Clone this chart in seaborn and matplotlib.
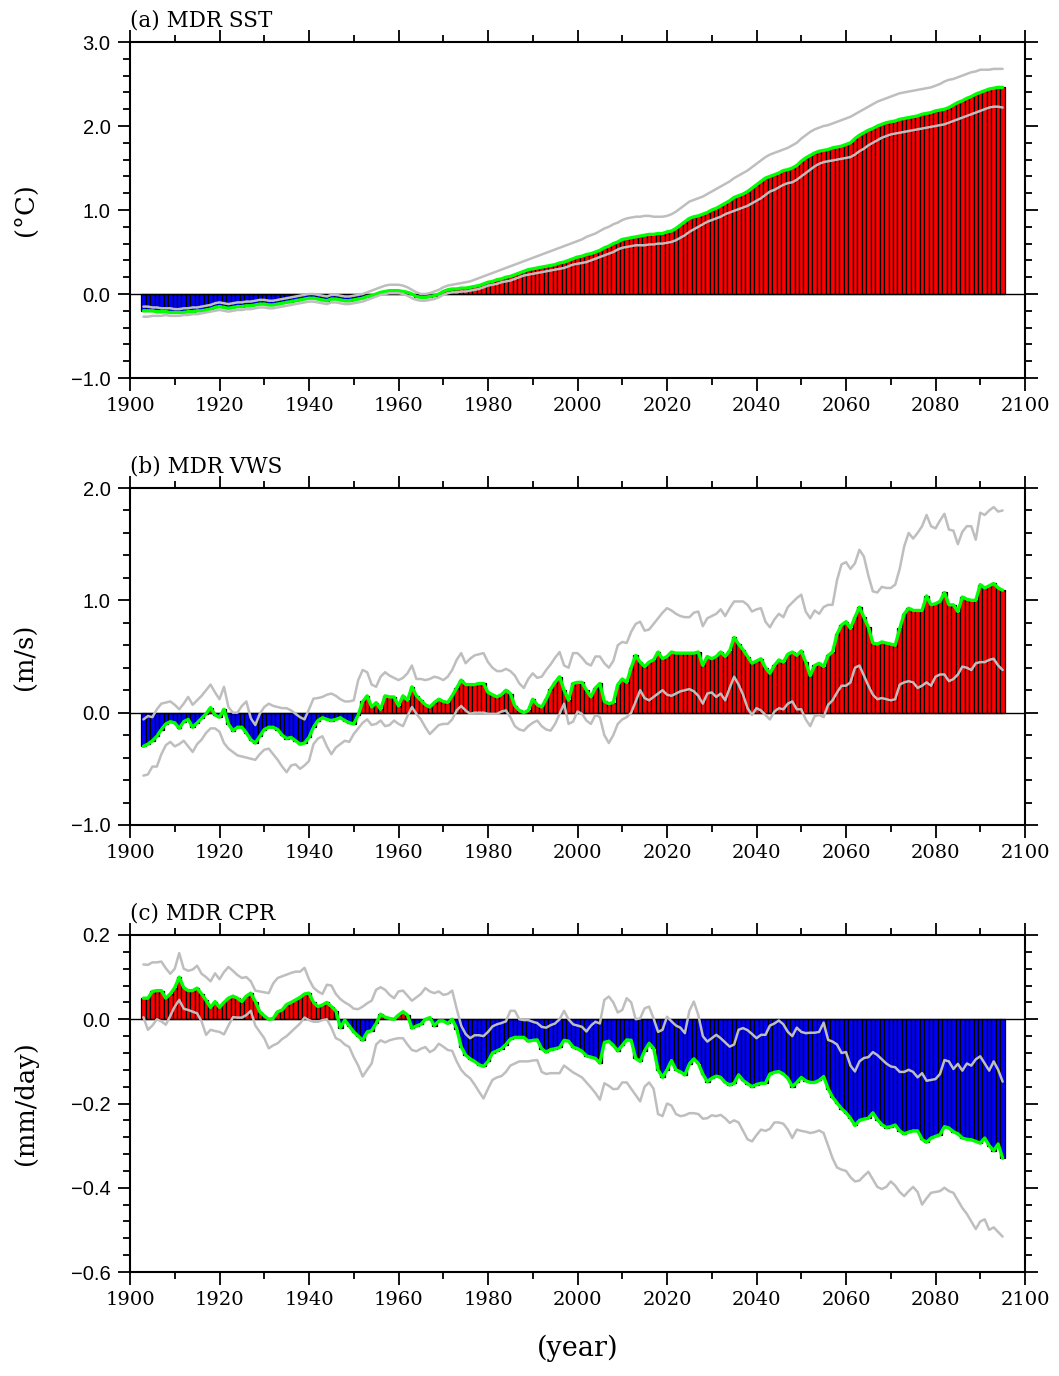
import numpy as np
import pandas as pd
import matplotlib
matplotlib.use("Agg")
import matplotlib.pyplot as plt
import seaborn as sns
from matplotlib.ticker import MultipleLocator, FuncFormatter

years = list(range(1903, 2096))

sst_mean = [
 -0.20,-0.20,-0.20,-0.21,-0.21,-0.21,-0.22,
 -0.22,-0.22,-0.22,-0.21,-0.21,-0.20,-0.20,-0.19,-0.18,-0.16,
 -0.15,-0.16,-0.17,-0.16,-0.15,-0.15,-0.14,-0.14,-0.13,-0.12,
 -0.12,-0.13,-0.13,-0.12,-0.11,-0.10,-0.09,-0.08,-0.07,-0.06,
 -0.05,-0.05,-0.06,-0.07,-0.08,-0.06,-0.06,-0.07,-0.08,-0.08,
 -0.07,-0.06,-0.05,-0.03,-0.02,0.00,0.02,0.03,0.04,0.04,
 0.04,0.03,0.02,0.00,-0.03,-0.04,-0.04,-0.03,-0.02,0.00,
 0.03,0.05,0.06,0.06,0.07,0.07,0.08,0.09,0.10,0.12,
 0.14,0.15,0.17,0.18,0.20,0.21,0.23,0.25,0.27,0.29,
 0.30,0.31,0.32,0.33,0.34,0.35,0.37,0.38,0.40,0.42,
 0.44,0.45,0.47,0.48,0.50,0.52,0.55,0.57,0.60,0.62,
 0.65,0.66,0.67,0.68,0.69,0.70,0.71,0.71,0.72,0.72,
 0.74,0.75,0.78,0.82,0.86,0.90,0.92,0.93,0.95,0.97,
 1.00,1.02,1.05,1.08,1.11,1.15,1.17,1.19,1.22,1.26,
 1.30,1.34,1.38,1.40,1.42,1.44,1.47,1.48,1.50,1.53,
 1.58,1.62,1.65,1.68,1.70,1.71,1.72,1.74,1.75,1.76,
 1.78,1.80,1.85,1.89,1.92,1.95,1.97,2.00,2.02,2.04,
 2.05,2.06,2.08,2.09,2.10,2.11,2.12,2.14,2.15,2.16,
 2.18,2.19,2.20,2.22,2.25,2.28,2.30,2.33,2.35,2.38,
 2.40,2.42,2.44,2.45,2.46,2.46]

sst_upper = [
 -0.15,-0.15,-0.16,-0.16,-0.17,-0.17,-0.17,
 -0.18,-0.18,-0.17,-0.17,-0.16,-0.16,-0.15,-0.14,-0.13,-0.11,
 -0.10,-0.11,-0.12,-0.11,-0.10,-0.10,-0.09,-0.09,-0.08,-0.07,
 -0.07,-0.08,-0.08,-0.07,-0.06,-0.05,-0.04,-0.03,-0.02,-0.01,
 0.00,0.00,-0.01,-0.02,-0.03,-0.01,-0.01,-0.02,-0.03,-0.03,
 -0.02,-0.01,0.00,0.02,0.04,0.06,0.08,0.10,0.11,0.11,
 0.11,0.10,0.08,0.05,0.02,0.00,0.00,0.01,0.03,0.05,
 0.08,0.10,0.11,0.12,0.13,0.14,0.15,0.17,0.19,0.21,
 0.23,0.25,0.27,0.29,0.31,0.33,0.35,0.37,0.39,0.41,
 0.43,0.45,0.47,0.49,0.51,0.53,0.55,0.57,0.59,0.61,
 0.63,0.65,0.68,0.70,0.72,0.75,0.78,0.80,0.83,0.85,
 0.88,0.90,0.91,0.92,0.92,0.93,0.93,0.92,0.92,0.92,
 0.93,0.95,0.98,1.02,1.06,1.10,1.12,1.14,1.16,1.19,
 1.22,1.25,1.28,1.31,1.34,1.38,1.41,1.44,1.47,1.51,
 1.55,1.59,1.63,1.66,1.68,1.70,1.72,1.74,1.77,1.80,
 1.85,1.89,1.93,1.96,1.98,2.00,2.01,2.03,2.05,2.07,
 2.09,2.11,2.14,2.17,2.20,2.23,2.26,2.29,2.31,2.33,
 2.35,2.37,2.39,2.40,2.41,2.42,2.43,2.44,2.45,2.46,
 2.48,2.50,2.53,2.55,2.56,2.58,2.60,2.62,2.64,2.65,
 2.67,2.67,2.67,2.68,2.68,2.68]

sst_lower = [
 -0.27,-0.27,-0.26,-0.26,-0.26,-0.25,-0.26,
 -0.26,-0.26,-0.25,-0.25,-0.24,-0.24,-0.23,-0.22,-0.21,-0.20,
 -0.19,-0.20,-0.21,-0.20,-0.19,-0.19,-0.18,-0.18,-0.17,-0.16,
 -0.16,-0.17,-0.17,-0.16,-0.15,-0.14,-0.13,-0.12,-0.11,-0.10,
 -0.09,-0.09,-0.10,-0.11,-0.12,-0.10,-0.10,-0.11,-0.12,-0.12,
 -0.11,-0.10,-0.09,-0.07,-0.05,-0.03,-0.01,0.00,0.01,0.01,
 0.01,0.00,-0.02,-0.05,-0.07,-0.08,-0.08,-0.07,-0.06,-0.04,
 -0.01,0.01,0.02,0.02,0.03,0.03,0.04,0.05,0.06,0.08,
 0.10,0.11,0.12,0.14,0.15,0.16,0.18,0.20,0.22,0.23,
 0.24,0.25,0.26,0.27,0.28,0.29,0.30,0.31,0.33,0.35,
 0.36,0.37,0.38,0.40,0.42,0.44,0.46,0.48,0.50,0.53,
 0.55,0.56,0.57,0.58,0.58,0.58,0.59,0.59,0.60,0.60,
 0.61,0.62,0.64,0.67,0.70,0.74,0.77,0.80,0.83,0.86,
 0.88,0.90,0.92,0.95,0.97,0.99,1.01,1.03,1.05,1.08,
 1.11,1.14,1.18,1.22,1.24,1.27,1.30,1.32,1.33,1.36,
 1.40,1.44,1.48,1.52,1.55,1.57,1.58,1.59,1.60,1.61,
 1.62,1.63,1.66,1.70,1.73,1.77,1.80,1.83,1.86,1.88,
 1.90,1.91,1.92,1.93,1.94,1.95,1.96,1.97,1.98,1.99,
 2.00,2.01,2.02,2.04,2.06,2.08,2.10,2.12,2.14,2.16,
 2.18,2.20,2.22,2.23,2.23,2.22]

vws_mean = [
 -0.30,-0.28,-0.25,-0.21,-0.15,-0.10,-0.08,
 -0.09,-0.14,-0.08,-0.06,-0.13,-0.09,-0.05,-0.01,0.045,-0.02,
 -0.04,0.03,-0.10,-0.16,-0.13,-0.13,-0.18,-0.24,-0.27,-0.21,
 -0.15,-0.13,-0.13,-0.15,-0.20,-0.23,-0.22,-0.25,-0.28,-0.27,
 -0.22,-0.13,-0.07,-0.045,-0.06,-0.07,-0.06,-0.045,-0.07,-0.09,
 -0.10,-0.02,0.10,0.15,0.05,0.09,0.03,0.15,0.14,0.14,
 0.06,0.15,0.11,0.23,0.15,0.11,0.07,0.05,0.09,0.12,
 0.10,0.09,0.15,0.22,0.29,0.25,0.25,0.25,0.26,0.26,
 0.18,0.16,0.14,0.16,0.20,0.17,0.06,0.02,0.00,0.02,
 0.12,0.07,0.05,0.12,0.21,0.27,0.32,0.20,0.11,0.26,
 0.27,0.27,0.20,0.14,0.22,0.26,0.10,0.08,0.09,0.25,
 0.30,0.27,0.40,0.51,0.45,0.41,0.45,0.47,0.54,0.48,
 0.50,0.54,0.53,0.53,0.53,0.53,0.53,0.54,0.42,0.50,
 0.48,0.50,0.54,0.50,0.55,0.67,0.61,0.56,0.50,0.44,
 0.46,0.48,0.40,0.35,0.42,0.47,0.45,0.52,0.54,0.51,
 0.55,0.45,0.33,0.42,0.44,0.41,0.51,0.54,0.70,0.78,
 0.81,0.75,0.85,0.94,0.85,0.76,0.62,0.61,0.63,0.62,
 0.61,0.60,0.75,0.88,0.93,0.91,0.91,0.91,1.04,0.96,
 0.97,0.99,1.07,0.96,0.96,0.90,1.03,1.01,1.00,1.00,
 1.14,1.11,1.13,1.15,1.11,1.09]

vws_upper = [
 -0.06,-0.03,-0.04,0.03,0.08,0.09,0.10,
 0.07,0.03,0.08,0.14,0.07,0.11,0.15,0.20,0.25,0.18,
 0.12,0.23,0.05,0.00,0.00,0.06,0.10,-0.05,-0.11,-0.01,
 0.05,0.08,0.06,0.05,0.04,0.04,0.02,-0.01,-0.04,-0.06,
 0.03,0.125,0.13,0.14,0.16,0.17,0.15,0.12,0.10,0.10,
 0.11,0.29,0.38,0.36,0.25,0.23,0.32,0.36,0.33,0.31,
 0.29,0.31,0.35,0.42,0.30,0.30,0.29,0.30,0.32,0.31,
 0.29,0.32,0.38,0.47,0.53,0.44,0.48,0.51,0.52,0.53,
 0.45,0.40,0.37,0.37,0.39,0.37,0.33,0.26,0.22,0.30,
 0.35,0.31,0.32,0.38,0.43,0.49,0.54,0.42,0.40,0.53,
 0.53,0.49,0.44,0.42,0.50,0.50,0.44,0.40,0.46,0.60,
 0.63,0.62,0.72,0.79,0.81,0.73,0.74,0.79,0.84,0.89,
 0.93,0.91,0.88,0.86,0.85,0.85,0.89,0.90,0.77,0.84,
 0.86,0.88,0.92,0.86,0.93,0.99,0.99,0.99,0.96,0.90,
 0.92,0.93,0.81,0.76,0.83,0.88,0.85,0.94,0.98,1.02,
 1.05,0.90,0.84,0.91,0.88,0.94,0.96,0.96,1.18,1.32,
 1.34,1.28,1.33,1.45,1.39,1.22,1.08,1.07,1.12,1.11,
 1.11,1.14,1.28,1.48,1.60,1.55,1.60,1.66,1.76,1.66,
 1.64,1.71,1.77,1.63,1.62,1.50,1.61,1.66,1.66,1.54,
 1.78,1.76,1.80,1.83,1.79,1.80]

vws_lower = [
 -0.56,-0.55,-0.48,-0.48,-0.37,-0.29,-0.26,
 -0.30,-0.28,-0.25,-0.30,-0.35,-0.28,-0.24,-0.18,-0.14,-0.14,
 -0.17,-0.27,-0.32,-0.35,-0.38,-0.39,-0.40,-0.41,-0.42,-0.37,
 -0.33,-0.32,-0.37,-0.42,-0.48,-0.53,-0.47,-0.46,-0.50,-0.47,
 -0.43,-0.28,-0.23,-0.21,-0.30,-0.37,-0.31,-0.28,-0.25,-0.26,
 -0.19,-0.14,-0.09,-0.06,-0.11,-0.10,-0.07,-0.12,-0.11,-0.07,
 -0.10,-0.12,-0.03,0.05,-0.01,-0.06,-0.13,-0.19,-0.15,-0.11,
 -0.10,-0.10,-0.06,0.02,0.06,0.02,-0.01,0.00,0.00,0.00,
 -0.01,-0.01,-0.01,0.01,0.02,-0.04,-0.12,-0.15,-0.16,-0.12,
 -0.09,-0.07,-0.12,-0.15,-0.16,-0.10,-0.01,0.08,-0.10,-0.08,
 0.01,-0.01,-0.07,-0.10,-0.02,-0.04,-0.20,-0.27,-0.20,-0.10,
 -0.06,-0.04,0.00,0.10,0.20,0.13,0.11,0.14,0.17,0.20,
 0.16,0.15,0.17,0.19,0.20,0.21,0.19,0.15,0.08,0.17,
 0.18,0.14,0.17,0.11,0.22,0.32,0.25,0.16,0.04,-0.02,
 0.04,0.02,-0.02,-0.06,0.01,0.04,0.03,0.08,0.10,0.03,
 0.03,-0.06,-0.12,-0.03,-0.02,-0.04,0.07,0.11,0.18,0.24,
 0.24,0.27,0.40,0.42,0.33,0.24,0.16,0.12,0.13,0.12,
 0.11,0.12,0.25,0.27,0.28,0.27,0.22,0.24,0.27,0.24,
 0.32,0.34,0.34,0.28,0.30,0.34,0.41,0.40,0.38,0.44,
 0.45,0.45,0.47,0.48,0.42,0.38]

cpr_mean = [
 0.050,0.050,0.066,0.068,0.068,0.050,0.060,
 0.075,0.100,0.075,0.068,0.068,0.074,0.060,0.045,0.028,0.042,
 0.028,0.040,0.050,0.055,0.050,0.042,0.055,0.062,0.042,0.018,
 0.008,0.000,0.002,0.018,0.022,0.035,0.040,0.046,0.052,0.060,
 0.062,0.040,0.030,0.034,0.040,0.030,0.020,-0.020,-0.002,-0.016,
 -0.030,-0.040,-0.050,-0.030,-0.027,-0.010,0.012,0.005,0.002,0.000,
 0.010,0.018,0.010,-0.021,-0.016,-0.012,0.000,0.004,-0.015,-0.004,
 -0.004,-0.010,0.000,-0.022,-0.065,-0.085,-0.094,-0.100,-0.108,-0.112,
 -0.100,-0.080,-0.075,-0.070,-0.060,-0.047,-0.043,-0.043,-0.043,-0.052,
 -0.050,-0.049,-0.070,-0.078,-0.072,-0.070,-0.067,-0.050,-0.052,-0.066,
 -0.070,-0.076,-0.087,-0.090,-0.093,-0.104,-0.055,-0.052,-0.062,-0.075,
 -0.062,-0.049,-0.050,-0.093,-0.100,-0.075,-0.057,-0.069,-0.120,-0.138,
 -0.120,-0.098,-0.120,-0.125,-0.132,-0.106,-0.094,-0.105,-0.130,-0.148,
 -0.140,-0.135,-0.138,-0.150,-0.156,-0.152,-0.132,-0.145,-0.153,-0.160,
 -0.155,-0.152,-0.152,-0.130,-0.126,-0.124,-0.130,-0.140,-0.160,-0.150,
 -0.138,-0.146,-0.150,-0.150,-0.145,-0.136,-0.165,-0.185,-0.199,-0.212,
 -0.222,-0.235,-0.252,-0.240,-0.237,-0.235,-0.222,-0.238,-0.250,-0.257,
 -0.255,-0.251,-0.265,-0.272,-0.268,-0.265,-0.265,-0.285,-0.292,-0.282,
 -0.278,-0.274,-0.255,-0.258,-0.267,-0.272,-0.282,-0.285,-0.286,-0.290,
 -0.294,-0.282,-0.300,-0.312,-0.296,-0.330]

cpr_upper = [
 0.130,0.129,0.135,0.135,0.137,0.121,0.108,
 0.120,0.157,0.120,0.115,0.118,0.127,0.108,0.100,0.090,0.109,
 0.095,0.112,0.124,0.115,0.105,0.098,0.100,0.090,0.068,0.066,
 0.064,0.062,0.085,0.098,0.102,0.106,0.110,0.113,0.113,0.122,
 0.095,0.075,0.066,0.060,0.082,0.080,0.060,0.048,0.040,0.034,
 0.025,0.024,0.030,0.038,0.044,0.070,0.076,0.070,0.058,0.050,
 0.066,0.068,0.056,0.044,0.052,0.060,0.074,0.066,0.062,0.066,
 0.058,0.060,0.068,0.025,-0.015,-0.035,-0.045,-0.038,-0.038,-0.040,
 -0.030,-0.017,-0.012,-0.009,-0.005,0.020,0.020,0.000,-0.002,-0.002,
 -0.006,-0.009,-0.018,-0.020,-0.014,-0.010,0.000,0.020,0.000,-0.012,
 -0.015,-0.018,-0.029,-0.015,-0.006,-0.010,0.046,0.054,0.040,0.016,
 0.022,0.050,0.040,0.000,0.002,0.026,0.030,0.002,-0.030,-0.025,
 0.006,-0.005,-0.015,-0.020,-0.033,0.020,0.042,0.010,-0.040,-0.053,
 -0.045,-0.037,-0.045,-0.055,-0.065,-0.060,-0.025,-0.021,-0.026,-0.035,
 -0.045,-0.037,-0.037,-0.015,-0.010,-0.003,-0.012,-0.030,-0.040,-0.020,
 -0.030,-0.033,-0.032,-0.032,-0.030,-0.008,-0.049,-0.053,-0.060,-0.080,
 -0.078,-0.110,-0.124,-0.100,-0.092,-0.090,-0.078,-0.085,-0.095,-0.105,
 -0.112,-0.114,-0.125,-0.125,-0.120,-0.125,-0.138,-0.128,-0.146,-0.144,
 -0.142,-0.130,-0.097,-0.100,-0.118,-0.106,-0.122,-0.105,-0.110,-0.095,
 -0.088,-0.105,-0.122,-0.100,-0.120,-0.148]

cpr_lower = [
 0.005,-0.025,-0.015,0.000,-0.005,-0.013,0.008,
 0.030,0.046,0.025,0.022,0.018,0.014,-0.005,-0.037,-0.025,-0.028,
 -0.030,-0.036,-0.015,0.005,0.004,0.004,0.010,0.020,-0.015,-0.030,
 -0.045,-0.069,-0.062,-0.057,-0.047,-0.040,-0.030,-0.020,-0.010,0.004,
 -0.002,-0.006,-0.006,-0.002,0.000,-0.020,-0.045,-0.050,-0.060,-0.066,
 -0.090,-0.110,-0.136,-0.120,-0.105,-0.060,-0.050,-0.055,-0.050,-0.047,
 -0.045,-0.045,-0.060,-0.073,-0.076,-0.070,-0.066,-0.078,-0.072,-0.058,
 -0.065,-0.073,-0.075,-0.100,-0.120,-0.132,-0.140,-0.155,-0.172,-0.188,
 -0.165,-0.144,-0.138,-0.135,-0.125,-0.110,-0.105,-0.100,-0.100,-0.100,
 -0.098,-0.097,-0.125,-0.130,-0.128,-0.128,-0.128,-0.110,-0.118,-0.126,
 -0.132,-0.138,-0.150,-0.162,-0.175,-0.191,-0.152,-0.158,-0.166,-0.165,
 -0.150,-0.150,-0.165,-0.180,-0.195,-0.160,-0.150,-0.165,-0.225,-0.230,
 -0.200,-0.205,-0.225,-0.230,-0.228,-0.223,-0.223,-0.225,-0.236,-0.235,
 -0.228,-0.230,-0.227,-0.235,-0.246,-0.240,-0.245,-0.265,-0.285,-0.290,
 -0.275,-0.262,-0.265,-0.260,-0.245,-0.245,-0.248,-0.262,-0.282,-0.262,
 -0.265,-0.267,-0.270,-0.268,-0.264,-0.270,-0.300,-0.330,-0.352,-0.357,
 -0.360,-0.375,-0.385,-0.383,-0.372,-0.362,-0.380,-0.398,-0.403,-0.398,
 -0.385,-0.395,-0.410,-0.420,-0.408,-0.398,-0.410,-0.440,-0.425,-0.412,
 -0.410,-0.408,-0.400,-0.408,-0.412,-0.430,-0.448,-0.462,-0.480,-0.498,
 -0.480,-0.475,-0.500,-0.494,-0.505,-0.516]

titles = ["(a) MDR SST", "(b) MDR VWS", "(c) MDR CPR"]
ylabels = ["(\u00b0C)", "(m/s)", "(mm/day)"]
xlabel = "(year)"

for arr in [sst_mean, sst_upper, sst_lower, vws_mean, vws_upper, vws_lower,
            cpr_mean, cpr_upper, cpr_lower]:
    assert len(arr) == len(years), len(arr)

sns.set_style("ticks")
plt.rcParams['font.family'] = ['DejaVu Serif']
plt.rcParams.update({
    'axes.linewidth': 1.5,
    'text.color': 'black',
    'axes.labelcolor': 'black',
    'axes.edgecolor': 'black',
    'xtick.color': 'black',
    'ytick.color': 'black',
})

fig = plt.figure(figsize=(10.59, 13.76), dpi=100)
W, H = 1059.0, 1376.0

def axes_box(top, bottom, left=130, right=1025):
    return [left / W, 1 - bottom / H, (right - left) / W, (bottom - top) / H]

panels = [
    dict(mean=sst_mean, up=sst_upper, lo=sst_lower, ylim=(-1.0, 3.0), major=1.0,
         minor=0.2, box=axes_box(42, 378)),
    dict(mean=vws_mean, up=vws_upper, lo=vws_lower, ylim=(-1.0, 2.0), major=1.0,
         minor=0.2, box=axes_box(488, 825)),
    dict(mean=cpr_mean, up=cpr_upper, lo=cpr_lower, ylim=(-0.6, 0.2), major=0.2,
         minor=0.04, box=axes_box(935, 1272)),
]

yfmt = FuncFormatter(lambda v, p: ("%.1f" % v).replace("-", "\u2212") if abs(v) > 1e-9 else "0.0")

for i, p in enumerate(panels):
    ax = fig.add_axes(p["box"])
    df = pd.DataFrame({"year": years, "value": p["mean"]})
    df["sign"] = np.where(df["value"] >= 0, "pos", "neg")
    sns.barplot(data=df, x="year", y="value", hue="sign",
                palette={"pos": "#ff0000", "neg": "#0000ff"},
                native_scale=True, width=1.0, dodge=False, saturation=1,
                edgecolor="black", linewidth=0.9, errorbar=None,
                legend=False, ax=ax, zorder=2)
    ax.axhline(0, color="black", lw=1.0, zorder=3)
    sns.lineplot(x=years, y=p["mean"], color="#00ff00", lw=2.4, ax=ax, zorder=4)
    sns.lineplot(x=years, y=p["up"], color="#bebebe", lw=1.8, ax=ax, zorder=5)
    sns.lineplot(x=years, y=p["lo"], color="#bebebe", lw=1.8, ax=ax, zorder=5)

    ax.set_xlim(1900, 2100)
    ax.set_ylim(*p["ylim"])
    ax.xaxis.set_major_locator(MultipleLocator(20))
    ax.xaxis.set_minor_locator(MultipleLocator(10))
    ax.yaxis.set_major_locator(MultipleLocator(p["major"]))
    ax.yaxis.set_minor_locator(MultipleLocator(p["minor"]))
    ax.yaxis.set_major_formatter(yfmt)
    ax.tick_params(which="both", direction="out", top=True, right=True,
                   labeltop=False, labelright=False, width=1.3, colors="black")
    ax.tick_params(which="major", length=9, labelsize=14, pad=5)
    ax.tick_params(which="minor", length=5)
    for lab in ax.get_yticklabels():
        lab.set_family("Liberation Sans")
        lab.set_fontsize(14.5)
    ax.set_xlabel("")
    ax.set_ylabel(ylabels[i], fontsize=18.5)
    ax.yaxis.set_label_coords(-0.103, 0.5)
    ax.text(0.0, 1.03, titles[i], transform=ax.transAxes, ha="left",
            va="bottom", fontsize=15.5)
    for s in ax.spines.values():
        s.set_visible(True)
        s.set_linewidth(1.5)
        s.set_color("black")
    if i == 2:
        ax.set_xlabel(xlabel, fontsize=19.5, labelpad=18)

fig.savefig("out.png", dpi=100)
